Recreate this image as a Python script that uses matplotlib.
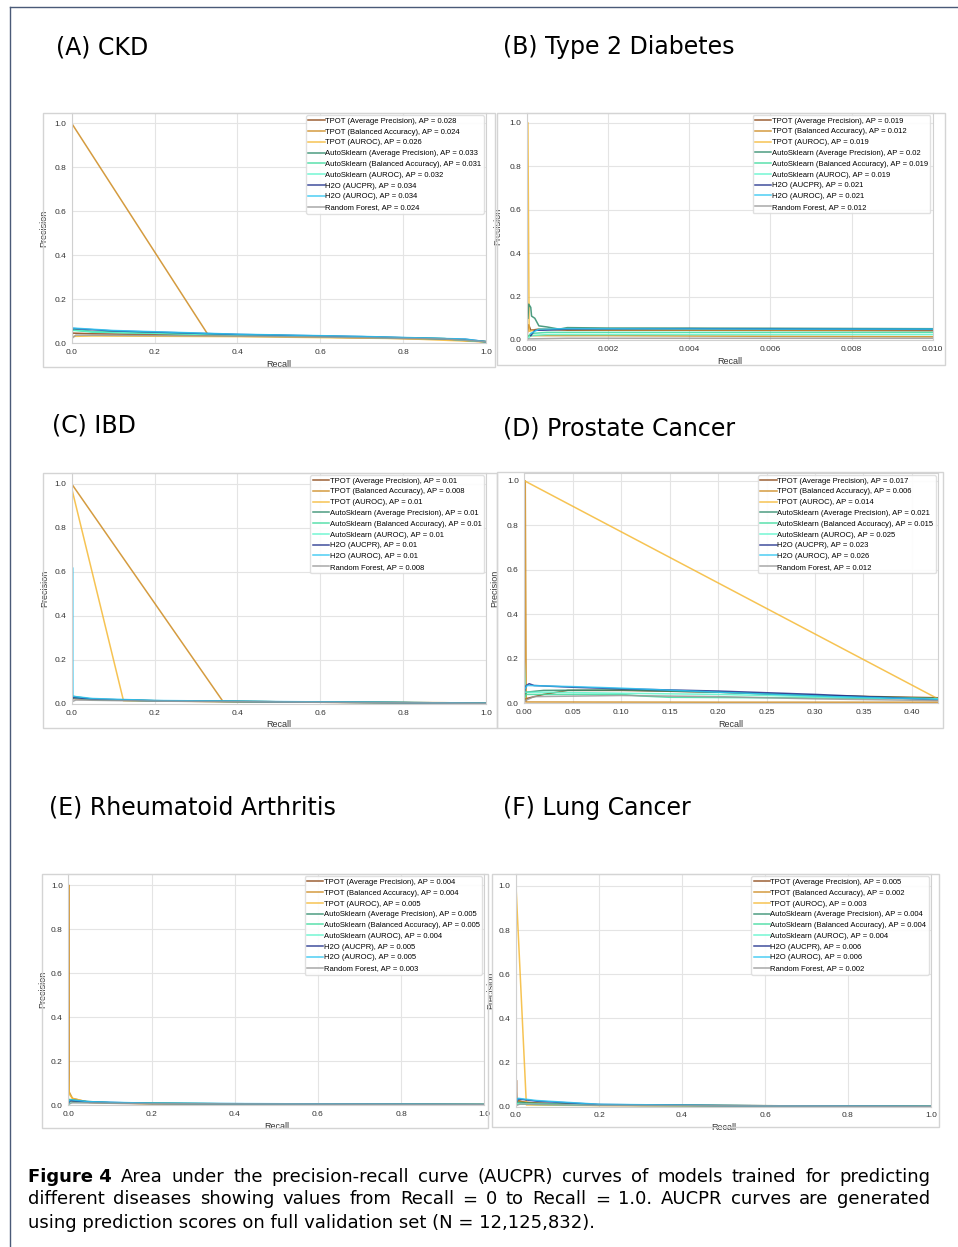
import matplotlib
matplotlib.use("Agg")
import matplotlib.pyplot as plt
from matplotlib.patches import Rectangle
from matplotlib.lines import Line2D

W, H = 958, 1247

MODELS = [
    "TPOT (Average Precision)",
    "TPOT (Balanced Accuracy)",
    "TPOT (AUROC)",
    "AutoSklearn (Average Precision)",
    "AutoSklearn (Balanced Accuracy)",
    "AutoSklearn (AUROC)",
    "H2O (AUCPR)",
    "H2O (AUROC)",
    "Random Forest",
]
COLORS = ["#8B4513", "#CD8A1E", "#F5B935", "#2E8B6B", "#3DDB9E",
          "#5CF5CC", "#1F2F8C", "#2EC5F2", "#999999"]

# average precision shown in each legend
ckd_ap = [0.028, 0.024, 0.026, 0.033, 0.031, 0.032, 0.034, 0.034, 0.024]
t2d_ap = [0.019, 0.012, 0.019, 0.02, 0.019, 0.019, 0.021, 0.021, 0.012]
ibd_ap = [0.01, 0.008, 0.01, 0.01, 0.01, 0.01, 0.01, 0.01, 0.008]
prostate_ap = [0.017, 0.006, 0.014, 0.021, 0.015, 0.025, 0.023, 0.026, 0.012]
ra_ap = [0.004, 0.004, 0.005, 0.005, 0.005, 0.004, 0.005, 0.005, 0.003]
lung_ap = [0.005, 0.002, 0.003, 0.004, 0.004, 0.004, 0.006, 0.006, 0.002]

# (recall, precision) points, same order as MODELS
ckd_curves = [
    [(0.0, 0.02), (0.002, 0.045), (0.05, 0.042), (0.3, 0.036), (0.6, 0.028), (0.9, 0.018), (1.0, 0.006)],
    [(0.0, 0.03), (0.0, 1.0), (0.33, 0.035), (0.6, 0.027), (0.9, 0.017), (1.0, 0.005)],
    [(0.0, 0.16), (0.001, 0.03), (0.05, 0.032), (0.4, 0.029), (0.8, 0.02), (1.0, 0.005)],
    [(0.0, 0.03), (0.002, 0.062), (0.05, 0.052), (0.3, 0.041), (0.6, 0.031), (0.9, 0.02), (1.0, 0.006)],
    [(0.0, 0.035), (0.002, 0.058), (0.05, 0.05), (0.3, 0.04), (0.6, 0.03), (0.9, 0.019), (1.0, 0.006)],
    [(0.0, 0.04), (0.002, 0.06), (0.05, 0.051), (0.3, 0.04), (0.6, 0.03), (0.9, 0.02), (1.0, 0.006)],
    [(0.0, 0.05), (0.003, 0.066), (0.1, 0.055), (0.4, 0.039), (0.7, 0.029), (0.95, 0.017), (1.0, 0.006)],
    [(0.0, 0.055), (0.003, 0.068), (0.1, 0.057), (0.4, 0.04), (0.7, 0.03), (0.95, 0.018), (1.0, 0.006)],
    [(0.0, 0.02), (0.01, 0.036), (0.3, 0.033), (0.6, 0.027), (0.9, 0.018), (1.0, 0.006)],
]
t2d_curves = [
    [(0.0, 0.01), (0.00005, 0.07), (0.0001, 0.045), (0.0003, 0.05), (0.001, 0.045), (0.004, 0.045), (0.01, 0.043)],
    [(0.0, 0.005), (0.00003, 0.02), (0.002, 0.02), (0.006, 0.017), (0.01, 0.015)],
    [(0.0, 0.0), (0.00003, 1.0), (0.00006, 0.04), (0.0003, 0.05), (0.002, 0.048), (0.01, 0.047)],
    [(0.00003, 0.1), (0.00005, 0.165), (0.0001, 0.15), (0.00012, 0.11), (0.0002, 0.1), (0.0003, 0.065),
     (0.0005, 0.06), (0.0008, 0.05), (0.001, 0.057), (0.002, 0.055), (0.003, 0.055), (0.006, 0.054), (0.01, 0.052)],
    [(0.0, 0.01), (0.0001, 0.03), (0.0005, 0.035), (0.01, 0.035)],
    [(0.0, 0.0), (0.0001, 0.02), (0.0005, 0.025), (0.01, 0.025)],
    [(0.0001, 0.02), (0.0002, 0.045), (0.0004, 0.045), (0.001, 0.05), (0.004, 0.052), (0.01, 0.048)],
    [(0.0001, 0.03), (0.0003, 0.05), (0.001, 0.052), (0.006, 0.05), (0.01, 0.05)],
    [(0.0, 0.005), (0.001, 0.008), (0.01, 0.008)],
]
ibd_curves = [
    [(0.0, 0.0), (0.0, 1.0), (0.001, 0.025), (0.05, 0.02), (0.2, 0.014), (0.5, 0.009), (0.8, 0.006), (1.0, 0.003)],
    [(0.0, 0.02), (0.0, 1.0), (0.365, 0.012), (0.6, 0.009), (0.9, 0.006), (1.0, 0.003)],
    [(0.0, 0.98), (0.125, 0.015), (0.4, 0.01), (0.8, 0.006), (1.0, 0.003)],
    [(0.0, 0.02), (0.002, 0.035), (0.05, 0.022), (0.2, 0.015), (0.5, 0.01), (0.8, 0.007), (1.0, 0.003)],
    [(0.0, 0.015), (0.002, 0.03), (0.05, 0.02), (0.2, 0.014), (0.5, 0.01), (1.0, 0.003)],
    [(0.0, 0.02), (0.002, 0.03), (0.05, 0.021), (0.2, 0.015), (0.5, 0.01), (1.0, 0.003)],
    [(0.0, 0.01), (0.003, 0.03), (0.05, 0.022), (0.2, 0.015), (0.5, 0.01), (1.0, 0.003)],
    [(0.001, 0.0), (0.002, 0.62), (0.003, 0.035), (0.05, 0.025), (0.2, 0.016), (0.5, 0.011), (0.8, 0.007), (1.0, 0.003)],
    [(0.0, 0.01), (0.01, 0.018), (0.2, 0.013), (0.5, 0.009), (1.0, 0.003)],
]
prostate_curves = [
    [(0.0, 0.0), (0.001, 0.02), (0.02, 0.04), (0.045, 0.058), (0.1, 0.058), (0.2, 0.05), (0.3, 0.035), (0.427, 0.025)],
    [(0.0, 0.0), (0.001, 1.0), (0.002, 0.006), (0.2, 0.005), (0.427, 0.005)],
    [(0.0, 1.0), (0.427, 0.02)],
    [(0.0, 0.03), (0.002, 0.05), (0.02, 0.058), (0.1, 0.06), (0.2, 0.05), (0.3, 0.035), (0.427, 0.022)],
    [(0.0, 0.02), (0.002, 0.04), (0.1, 0.04), (0.12, 0.033), (0.15, 0.027), (0.3, 0.024), (0.427, 0.02)],
    [(0.0, 0.18), (0.001, 0.05), (0.02, 0.05), (0.1, 0.045), (0.2, 0.04), (0.3, 0.03), (0.427, 0.02)],
    [(0.0, 0.05), (0.002, 0.08), (0.005, 0.088), (0.01, 0.08), (0.05, 0.072), (0.1, 0.065), (0.2, 0.055),
     (0.3, 0.04), (0.38, 0.025), (0.427, 0.015)],
    [(0.0, 0.06), (0.003, 0.08), (0.05, 0.075), (0.1, 0.068), (0.2, 0.05), (0.32, 0.03), (0.427, 0.018)],
    [(0.0, 0.01), (0.01, 0.03), (0.1, 0.035), (0.2, 0.03), (0.3, 0.02), (0.427, 0.012)],
]
ra_curves = [
    [(0.0, 0.0), (0.001, 0.02), (0.02, 0.015), (0.1, 0.008), (0.4, 0.004), (1.0, 0.002)],
    [(0.0, 0.0), (0.001, 1.0), (0.002, 0.06), (0.01, 0.03), (0.05, 0.012), (0.2, 0.006), (1.0, 0.002)],
    [(0.0, 0.14), (0.002, 0.05), (0.01, 0.03), (0.05, 0.012), (0.2, 0.006), (1.0, 0.002)],
    [(0.0, 0.01), (0.003, 0.025), (0.03, 0.018), (0.1, 0.01), (0.4, 0.005), (1.0, 0.002)],
    [(0.0, 0.01), (0.003, 0.022), (0.03, 0.016), (0.1, 0.01), (0.4, 0.005), (1.0, 0.002)],
    [(0.002, 0.0), (0.005, 0.012), (0.05, 0.012), (0.2, 0.007), (1.0, 0.002)],
    [(0.0, 0.01), (0.005, 0.02), (0.05, 0.014), (0.2, 0.007), (1.0, 0.002)],
    [(0.0, 0.015), (0.005, 0.024), (0.05, 0.015), (0.2, 0.008), (1.0, 0.002)],
    [(0.0, 0.005), (0.01, 0.01), (0.2, 0.006), (1.0, 0.002)],
]
lung_curves = [
    [(0.0, 0.0), (0.001, 0.12), (0.002, 0.03), (0.02, 0.02), (0.1, 0.012), (0.3, 0.006), (1.0, 0.001)],
    [(0.0, 0.0), (0.002, 0.025), (0.05, 0.015), (0.2, 0.008), (1.0, 0.001)],
    [(0.0, 1.0), (0.025, 0.008), (0.2, 0.005), (0.6, 0.003), (1.0, 0.001)],
    [(0.0, 0.01), (0.003, 0.02), (0.05, 0.015), (0.2, 0.008), (1.0, 0.001)],
    [(0.0, 0.005), (0.003, 0.012), (0.02, 0.012), (0.05, 0.01), (0.2, 0.007), (1.0, 0.001)],
    [(0.0, 0.008), (0.003, 0.015), (0.05, 0.012), (0.2, 0.007), (1.0, 0.001)],
    [(0.0, 0.02), (0.005, 0.035), (0.05, 0.025), (0.2, 0.01), (0.5, 0.005), (1.0, 0.001)],
    [(0.0, 0.02), (0.005, 0.038), (0.05, 0.028), (0.2, 0.011), (0.5, 0.005), (1.0, 0.001)],
    [(0.0, 0.005), (0.01, 0.012), (0.2, 0.006), (1.0, 0.001)],
]

TITLES = ["(A) CKD", "(B) Type 2 Diabetes", "(C) IBD",
          "(D) Prostate Cancer", "(E) Rheumatoid Arthritis", "(F) Lung Cancer"]

CAPTION_1 = "Area under the precision-recall curve (AUCPR) curves of models trained for predicting"
CAPTION_2 = "different diseases showing values from Recall = 0 to Recall = 1.0. AUCPR curves are generated"
CAPTION_3 = "using prediction scores on full validation set (N = 12,125,832)."

plt.rcParams["font.family"] = ["Liberation Sans", "DejaVu Sans"]

fig = plt.figure(figsize=(W / 100, H / 100), dpi=100)


def fx(x):
    return x / W


def fy(y):
    return 1 - y / H


# panel layout in pixels of the page
panels = [
    dict(title=(56, 47), box=(43, 113, 495, 367), ax=(71.7, 113, 486, 343),
         xlab=360, ylab=48, xlim=1.0, step=0.2, ytop=1.047),
    dict(title=(503, 47), box=(497, 113, 945, 365), ax=(526.7, 112.7, 932.7, 340),
         xlab=357, ylab=502, xlim=0.010, step=0.002, ytop=1.046),
    dict(title=(52, 425), box=(43, 472.7, 497, 728), ax=(71.7, 472.7, 486, 704),
         xlab=720, ylab=49, xlim=1.0, step=0.2, ytop=1.051),
    dict(title=(503, 428), box=(497, 472, 943, 728), ax=(524.3, 472.7, 938, 703.3),
         xlab=720, ylab=499, xlim=0.427, step=0.05, ytop=1.036),
    dict(title=(49, 808), box=(41.7, 874, 488, 1128), ax=(68.3, 874, 484.3, 1105),
         xlab=1122, ylab=47, xlim=1.0, step=0.2, ytop=1.05),
    dict(title=(503, 808), box=(492, 874, 939, 1127), ax=(516, 874, 931, 1106.7),
         xlab=1123, ylab=495, xlim=1.0, step=0.2, ytop=1.054),
]
all_curves = [ckd_curves, t2d_curves, ibd_curves, prostate_curves, ra_curves, lung_curves]
all_ap = [ckd_ap, t2d_ap, ibd_ap, prostate_ap, ra_ap, lung_ap]

for p, title, curves, aps in zip(panels, TITLES, all_curves, all_ap):
    fig.text(fx(p["title"][0]), fy(p["title"][1]), title, fontsize=17,
             family="DejaVu Sans", va="center", ha="left")

    bx0, by0, bx1, by1 = p["box"]
    fig.add_artist(Rectangle((fx(bx0), fy(by1)), (bx1 - bx0) / W, (by1 - by0) / H,
                             transform=fig.transFigure, fill=False, ec="#d4d4d4", lw=1))

    x0, y0, x1, y1 = p["ax"]
    ax = fig.add_axes([fx(x0), fy(y1), (x1 - x0) / W, (y1 - y0) / H])
    for curve, color, name, ap in zip(curves, COLORS, MODELS, aps):
        rec = [c[0] for c in curve]
        prec = [c[1] for c in curve]
        ax.plot(rec, prec, color=color, lw=1.1, alpha=0.85, label=f"{name}, AP = {ap}")

    ax.set_xlim(0, p["xlim"])
    ax.set_ylim(0, p["ytop"])
    n = int(p["xlim"] / p["step"] + 1e-6) + 1
    ax.set_xticks([round(i * p["step"], 4) for i in range(n)])
    ax.set_yticks([0, 0.2, 0.4, 0.6, 0.8, 1.0])
    ax.grid(True, color="#e4e4e4", lw=0.8)
    ax.set_axisbelow(True)
    for s in ax.spines.values():
        s.set_color("#d0d0d0")
        s.set_linewidth(0.8)
    ax.tick_params(length=0, labelsize=6, labelcolor="#333333", pad=4)
    ax.set_xlabel("Recall", fontsize=6.5, color="#333333")
    ax.set_ylabel("Precision", fontsize=6.5, color="#333333")
    ax.xaxis.set_label_coords(0.5, (y1 - p["xlab"]) / (y1 - y0))
    ax.yaxis.set_label_coords((p["ylab"] - x0) / (x1 - x0), 0.5)
    ax.legend(loc="upper right", fontsize=5.5, handlelength=2.1, handletextpad=0.1,
              labelspacing=0.45, borderpad=0.3, borderaxespad=0.3,
              framealpha=0.9, edgecolor="#dddddd")

# page frame
fig.add_artist(Line2D([fx(9.5), fx(9.5)], [fy(7), 0], transform=fig.transFigure,
                      color="#4a5a78", lw=1))
fig.add_artist(Line2D([fx(9.5), 1], [fy(7), fy(7)], transform=fig.transFigure,
                      color="#4a5a78", lw=1))

# caption, justified like the LaTeX original
renderer = fig.canvas.get_renderer()
cap_kw = dict(fontsize=13, family="DejaVu Sans", va="baseline", ha="left")


def justified(words, y, x0, x1, n_bold=0):
    items = []
    for i, w in enumerate(words):
        t = fig.text(0, fy(y), w, weight="bold" if i < n_bold else "normal", **cap_kw)
        items.append(t)
    widths = [t.get_window_extent(renderer).width for t in items]
    gap = (x1 - x0 - sum(widths)) / (len(items) - 1)
    x = x0
    for t, w in zip(items, widths):
        t.set_x(fx(x))
        x += w + gap


justified(["Figure 4"] + CAPTION_1.split(), 1181.5, 28, 930, n_bold=1)
justified(CAPTION_2.split(), 1204.5, 28, 930)
fig.text(fx(28), fy(1227.5), CAPTION_3, **cap_kw)

fig.savefig("out.png", dpi=100)
